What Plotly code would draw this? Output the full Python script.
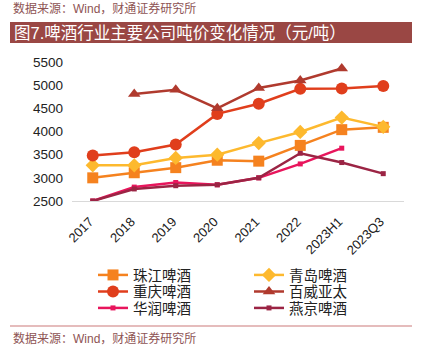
import plotly.graph_objects as go

categories = ["2017", "2018", "2019", "2020", "2021", "2022", "2023H1", "2023Q3"]
zhujiang = [3000, 3110, 3220, 3380, 3360, 3700, 4040, 4090]
tsingtao = [3270, 3270, 3430, 3500, 3750, 3990, 4300, 4100]
chongqing = [3480, 3550, 3720, 4380, 4600, 4920, 4930, 4980]
budweiser = [None, 4810, 4900, 4500, 4940, 5100, 5360, None]
cr = [2500, 2800, 2900, 2850, 3000, 3300, 3640, None]
yanjing = [2500, 2760, 2830, 2850, 3000, 3530, 3330, 3090]
y_ticks = [2500, 3000, 3500, 4000, 4500, 5000, 5500]

names = ["珠江啤酒", "青岛啤酒", "重庆啤酒", "百威亚太", "华润啤酒", "燕京啤酒"]
series = [zhujiang, tsingtao, chongqing, budweiser, cr, yanjing]
colors = ["#F5821F", "#FDB92E", "#E03E1C", "#B03A2E", "#E8155C", "#9B2444"]
symbols = ["square", "diamond", "circle", "triangle-up", "square", "square"]
sizes = [11, 11, 12, 11, 5, 5]

L, T, W, H = 72, 62, 332, 139
def px(x):
    return (x - L) / W
def py(y):
    return (T + H - y) / H

# legend slot per trace (column x px, row y px)
leg_cols = [93, 249]
leg_rows = [275, 291.5, 308]

fig = go.Figure()
legends = {}
for i, (n, s, c, sym, sz) in enumerate(zip(names, series, colors, symbols, sizes)):
    lid = "legend" if i == 0 else f"legend{i + 1}"
    fig.add_trace(go.Scatter(
        x=categories, y=s, name=n, mode="lines+markers",
        line=dict(color=c, width=2.5),
        marker=dict(symbol=sym, size=sz, color=c),
        connectgaps=False, legend=lid,
    ))
    legends[lid] = dict(
        orientation="v", x=px(leg_cols[i % 2]), y=py(leg_rows[i // 2]),
        xanchor="left", yanchor="middle",
        font=dict(family="Liberation Sans, Noto Sans CJK SC", size=14.5, color="#222"),
        itemwidth=30, bgcolor="rgba(0,0,0,0)",
    )

src_color = "#8E5454"
fig.update_layout(
    width=426, height=353,
    margin=dict(l=L, r=426 - L - W, t=T, b=353 - T - H, autoexpand=False),
    paper_bgcolor="white", plot_bgcolor="white",
    font=dict(family="Arial, Liberation Sans, Noto Sans CJK SC", color="#222"),
    showlegend=True,
    xaxis=dict(
        type="category", range=[-0.5, 7.5], tickangle=-45,
        showgrid=False, showline=True, linecolor="#D9D9D9", linewidth=1,
        ticks="", tickfont=dict(size=13, family="Arial, Liberation Sans"),
        ticklabelstandoff=7, ticklabelshift=-3,
        zeroline=False, fixedrange=True,
    ),
    yaxis=dict(
        range=[2500, 5500], tickvals=y_ticks, showgrid=False, showline=False,
        zeroline=False, ticks="", ticklabelstandoff=8,
        tickfont=dict(size=13.5, family="Arial, Liberation Sans"),
        fixedrange=True,
    ),
    shapes=[
        dict(type="rect", xref="paper", yref="paper",
             x0=px(10), x1=px(412), y0=py(43), y1=py(22),
             fillcolor="#9A4744", line=dict(width=0), layer="above"),
        dict(type="line", xref="paper", yref="paper",
             x0=px(10), x1=px(412), y0=py(326), y1=py(326),
             line=dict(color="#DDA6A6", width=1.5)),
    ],
    annotations=[
        dict(text="数据来源：Wind，财通证券研究所", xref="paper", yref="paper",
             x=px(11), y=py(9), xanchor="left", yanchor="middle", showarrow=False,
             font=dict(family="Liberation Sans, Noto Sans CJK SC", size=12, color=src_color)),
        dict(text="图7.啤酒行业主要公司吨价变化情况（元/吨）", xref="paper", yref="paper",
             x=px(12), y=py(32.5), xanchor="left", yanchor="middle", showarrow=False,
             font=dict(family="Liberation Sans, Noto Sans CJK SC", size=16.5, color="white")),
        dict(text="数据来源：Wind，财通证券研究所", xref="paper", yref="paper",
             x=px(11), y=py(338), xanchor="left", yanchor="middle", showarrow=False,
             font=dict(family="Liberation Sans, Noto Sans CJK SC", size=12, color=src_color)),
    ],
    **legends,
)

fig.write_html("out.html")
